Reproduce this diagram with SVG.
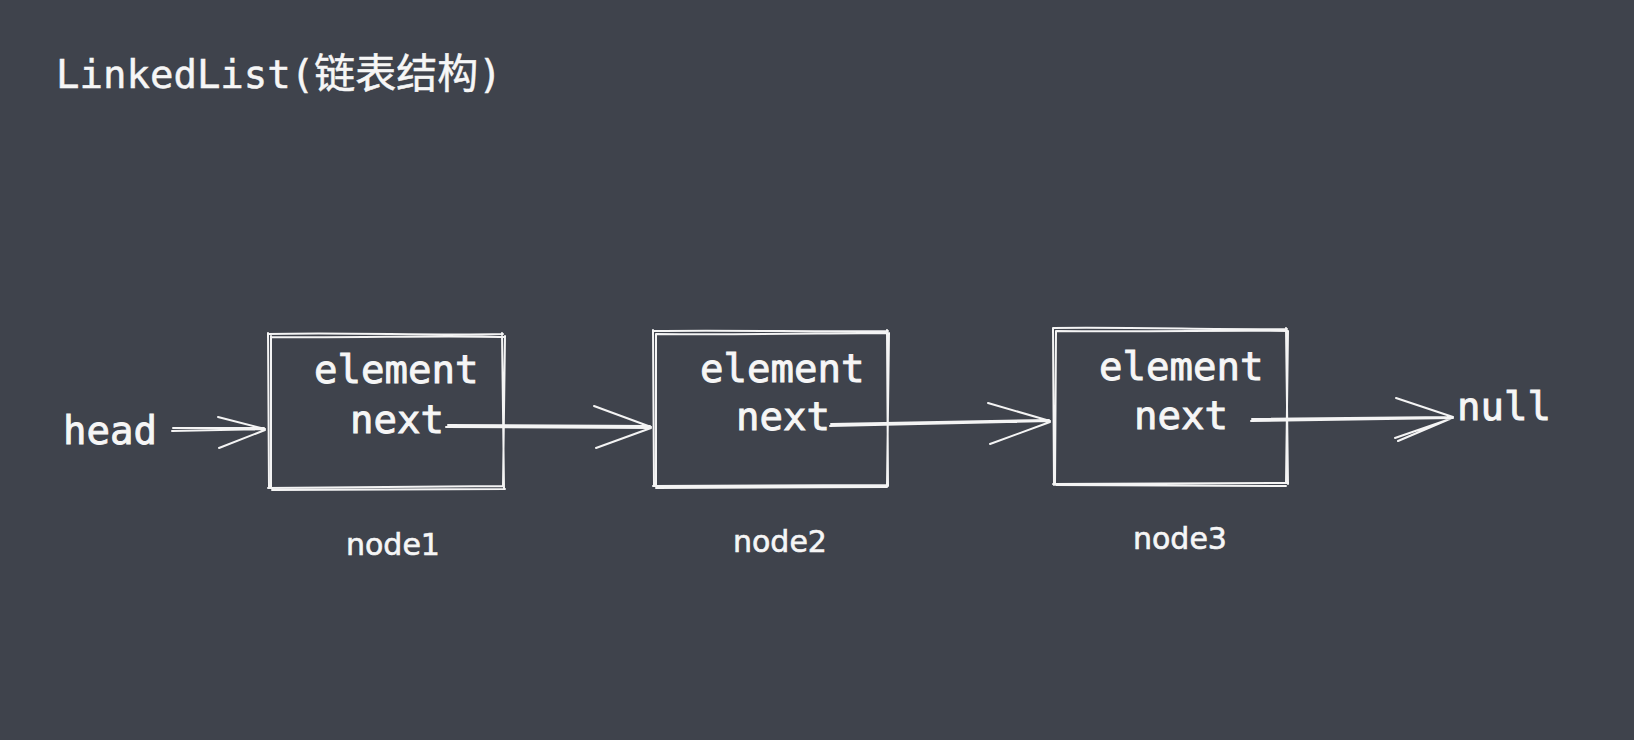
<svg xmlns="http://www.w3.org/2000/svg" width="1634" height="740" viewBox="0 0 1634 740">
<style>
.sk{fill:none;stroke:#f4f4f4;stroke-width:2;stroke-linecap:round;stroke-linejoin:round}
.mono{font-family:"DejaVu Sans Mono","Liberation Mono","Noto Sans CJK SC",monospace;fill:#f6f6f6;font-size:39px;stroke:#f6f6f6;stroke-width:0.9}
.ttl{stroke-width:0.5}
.hand{font-family:"DejaVu Sans","Liberation Sans",sans-serif;fill:#f6f6f6;font-size:30px;stroke:#f6f6f6;stroke-width:0.6}
</style>
<rect x="0" y="0" width="1634" height="740" fill="#3f434c"/>
<g id="title"><text class="mono ttl" x="56" y="88" font-size="39">LinkedList(<tspan font-family="'Noto Sans CJK SC',sans-serif" font-size="41">链表结构</tspan>)</text></g>
<g id="head"><text class="mono" x="63" y="444">head</text></g>
<g id="node1">
<path class="sk" d="M268,334 C350,332 430,336 503,334 M271,337 C360,338 440,335 505,337 M502,333 L504,488 M505,336 L503,486 M504,486 L268,488 M505,489 L272,490 M268,333 L269,488 M271,336 L271,487"/>
<text class="mono" x="314" y="383">element</text>
<text class="mono" x="350" y="433">next</text>
<text class="hand" x="346" y="555">node1</text>
</g>
<g id="node2">
<path class="sk" d="M653,331 C740,330 820,332 888,331 M656,334 C750,335 830,333 889,333 M887,330 L888,486 M889,333 L887,485 M888,485 L653,486 M887,487 L656,488 M653,330 L654,486 M656,334 L656,485"/>
<text class="mono" x="700" y="382">element</text>
<text class="mono" x="736" y="430">next</text>
<text class="hand" x="733" y="552">node2</text>
</g>
<g id="node3">
<path class="sk" d="M1053,328 C1140,327 1220,330 1287,329 M1056,331 C1150,332 1230,330 1288,331 M1286,328 L1288,484 M1288,331 L1286,483 M1287,483 L1053,484 M1286,486 L1056,485 M1053,328 L1054,485 M1056,331 L1055,484"/>
<text class="mono" x="1099" y="380">element</text>
<text class="mono" x="1134" y="429">next</text>
<text class="hand" x="1133" y="549">node3</text>
</g>
<g id="null"><text class="mono" x="1457" y="420">null</text></g>
<g id="connectors">
<path class="sk" d="M172,431 L265,429 M173,428 L264,428 M218,417 L265,429 M219,448 L265,430"/>
<path class="sk" d="M446,427 L651,428 M448,425 L650,426 M594,406 L651,427 M596,448 L651,428"/>
<path class="sk" d="M830,426 L1050,421 M831,424 L1049,420 M988,403 L1050,421 M990,444 L1050,422"/>
<path class="sk" d="M1251,421 L1453,418 M1252,419 L1452,417 M1396,398 L1453,417 M1398,441 L1452,418 M1395,438 L1450,419"/>
</g>
</svg>
